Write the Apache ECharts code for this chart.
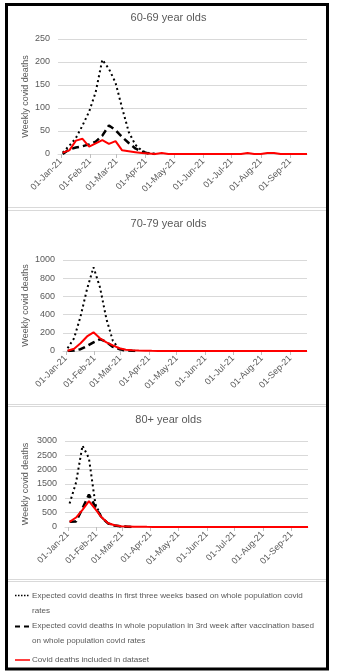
<!DOCTYPE html>
<html><head><meta charset="utf-8">
<script src="https://cdn.jsdelivr.net/npm/echarts@6/dist/echarts.min.js"></script>
<style>html,body{margin:0;padding:0;background:#fff}#c{width:337px;height:671px}</style>
</head><body><div id="c"></div>
<script>
// ---- data ----
const dates = ['2021-01-03','2021-01-10','2021-01-17','2021-01-24','2021-01-31','2021-02-07','2021-02-14','2021-02-21','2021-02-28',
'2021-03-07','2021-03-14','2021-03-21','2021-03-28','2021-04-04','2021-04-11','2021-04-18','2021-04-25','2021-05-02','2021-05-09',
'2021-05-16','2021-05-23','2021-05-30','2021-06-06','2021-06-13','2021-06-20','2021-06-27','2021-07-04','2021-07-11','2021-07-18',
'2021-07-25','2021-08-01','2021-08-08','2021-08-15','2021-08-22','2021-08-29','2021-09-05','2021-09-12','2021-09-19'];
const monthTicks = ['2021-01-01','2021-02-01','2021-03-01','2021-04-01','2021-05-01','2021-06-01','2021-07-01','2021-08-01','2021-09-01'];
const monthLabels = ['01-Jan-21','01-Feb-21','01-Mar-21','01-Apr-21','01-May-21','01-Jun-21','01-Jul-21','01-Aug-21','01-Sep-21'];
const axisStart = '2020-12-29';
const axisEnd = '2021-09-19';

const titles = ['60-69 year olds','70-79 year olds','80+ year olds'];
const yMax = [250, 1000, 3000];
const yStep = [50, 200, 500];

const p1Dotted = [3,18,35,62,92,135,205,185,155,100,48,20,7,2,0];
const p1Dashed = [0,10,14,17,21,27,40,62,52,37,24,12,5,1,0];
const p1Red = [3,8,29,33,16,23,30,22,28,8,6,4,2,1,0,2,0,0,0,0,0,0,0,0,0,0,0,0,2,0,0,2,2,0,0,0,0,0];

const p2Dotted = [30,140,380,680,920,700,350,110,20,0];
const p2Dashed = [0,5,20,55,95,130,100,45,20,8,2,0];
const p2Red = [2,25,85,160,205,140,95,62,30,14,8,5,4,2,1,0,0,0,0,0,0,0,0,0,0,0,0,0,0,0,0,0,0,0,0,0,0,0];

const p3Dotted = [820,1550,2840,2400,800,330,130,50,20,10,0];
const p3Dashed = [180,190,650,1130,700,320,120,50,20,10,0];
const p3Red = [180,330,600,900,620,330,130,60,30,20,10,8,5,3,2,0,0,0,0,0,0,0,0,0,0,0,0,0,0,0,0,0,0,0,0,0,0,0];

const legendTexts = [
  ['Expected covid deaths in first three weeks based on whole population covid','rates'],
  ['Expected covid deaths in whole population in 3rd week after vaccination based','on whole population covid rates'],
  ['Covid deaths included in dataset']
];
const yName = 'Weekly covid deaths';

// ---- helpers: dates -> day number since 01-Jan-21 ----
const DAY = 86400000;
function dayNum(s){const p=s.split('-').map(Number);return Math.round((Date.UTC(p[0],p[1]-1,p[2])-Date.UTC(2021,0,1))/DAY);}
function pairs(vals){return vals.map((v,i)=>[dayNum(dates[i]),v]);}
const tickDays = monthTicks.map(dayNum);
function lab(v){const k=tickDays.indexOf(Math.round(v));return k<0?'':monthLabels[k];}

const grids = [
  {left:58, top:39, width:249, height:115},
  {left:63, top:260, width:244, height:91},
  {left:65, top:441, width:243, height:86}
];
const titleTops = [12, 218, 414];
const nameGaps = [28, 33, 35];
const FONT = 'Liberation Sans';
const GREY = '#595959';

const series = [];
const sets = [[p1Dotted,p1Dashed,p1Red],[p2Dotted,p2Dashed,p2Red],[p3Dotted,p3Dashed,p3Red]];
sets.forEach((s,g)=>{
  series.push({type:'line',xAxisIndex:g,yAxisIndex:g,data:pairs(s[0]),symbol:'none',
    lineStyle:{color:'#000',width:2,type:[2,3],cap:'butt'},z:2});
  series.push({type:'line',xAxisIndex:g,yAxisIndex:g,data:pairs(s[1]),symbol:'none',
    lineStyle:{color:'#000',width:2.5,type:[7,4],cap:'butt'},z:3});
  series.push({type:'line',xAxisIndex:g,yAxisIndex:g,data:pairs(s[2]),symbol:'none',
    lineStyle:{color:'#ff0000',width:2},z:4});
});

const graphic = [
  {type:'rect',shape:{x:6.5,y:4.5,width:321,height:664.5},style:{fill:'none',stroke:'#000',lineWidth:3},z:100},
];
[207.5,210.5,404.5,406.5,579.5,581.5].forEach(y=>{
  graphic.push({type:'line',shape:{x1:8,y1:y,x2:326,y2:y},style:{stroke:'#d9d9d9',lineWidth:1}});
});
const legY = [[596,610.5],[626,640.5],[660]];
legendTexts.forEach((lines,k)=>{
  lines.forEach((t,j)=>{
    graphic.push({type:'text',x:32,y:legY[k][j],style:{text:t,font:'8.1px "'+FONT+'"',fill:GREY,textVerticalAlign:'middle',verticalAlign:'middle'}});
  });
});
graphic.push({type:'line',shape:{x1:15,y1:595.5,x2:30,y2:595.5},style:{stroke:'#000',lineWidth:1.5,lineDash:[1.5,1.5]}});
graphic.push({type:'line',shape:{x1:15,y1:626.5,x2:30,y2:626.5},style:{stroke:'#000',lineWidth:2,lineDash:[5,4]}});
graphic.push({type:'line',shape:{x1:15,y1:660,x2:30,y2:660},style:{stroke:'#ff0000',lineWidth:1.5}});

const option = {
  animation:false,
  backgroundColor:'#fff',
  textStyle:{fontFamily:FONT},
  title: titles.map((t,g)=>({text:t,left:'center',top:titleTops[g],padding:0,
    textStyle:{fontSize:11,fontWeight:'normal',color:GREY,fontFamily:FONT}})),
  grid: grids,
  xAxis: grids.map((gr,g)=>({
    type:'value',gridIndex:g,min:dayNum(axisStart),max:dayNum(axisEnd),
    axisLine:{show:true,onZero:false,lineStyle:{color:'#d9d9d9'}},
    axisTick:{show:true,customValues:tickDays,length:4,lineStyle:{color:'#bfbfbf'}},
    axisLabel:{customValues:tickDays,rotate:45,fontSize:9,color:GREY,margin:6,fontFamily:FONT,formatter:lab},
    splitLine:{show:false}
  })),
  yAxis: grids.map((gr,g)=>({
    type:'value',gridIndex:g,min:0,max:yMax[g],interval:yStep[g],
    axisLine:{show:false},axisTick:{show:false},
    axisLabel:{fontSize:9,color:GREY,margin:8,fontFamily:FONT,formatter:v=>String(v)},
    splitLine:{lineStyle:{color:'#d9d9d9'}},
    name:yName,nameLocation:'middle',nameGap:nameGaps[g],nameRotate:90,nameMoveOverlap:false,
    nameTextStyle:{fontSize:9,color:GREY,fontFamily:FONT}
  })),
  series: series,
  graphic: graphic
};
const chart = echarts.init(document.getElementById('c'),null,{renderer:'canvas'});
chart.setOption(option);
</script>
</body></html>
